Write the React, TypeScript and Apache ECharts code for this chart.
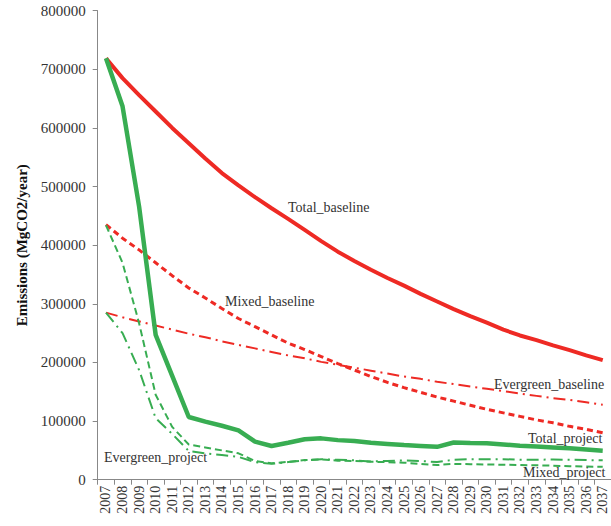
import React, { useEffect, useRef } from "react";
import * as echarts from "echarts";

const years = [
  "2007", "2008", "2009", "2010", "2011", "2012", "2013", "2014", "2015", "2016",
  "2017", "2018", "2019", "2020", "2021", "2022", "2023", "2024", "2025", "2026",
  "2027", "2028", "2029", "2030", "2031", "2032", "2033", "2034", "2035", "2036", "2037",
];

const totalBaseline = [
  719000, 685000, 656000, 628000, 600000, 574000, 548000, 523000, 502000, 482000,
  463000, 445000, 426000, 407000, 389000, 373000, 358000, 344000, 331000, 317000,
  304000, 291000, 279000, 268000, 256000, 246000, 238000, 229000, 221000, 212000, 204000,
];

const mixedBaseline = [
  435000, 412000, 392000, 370000, 348000, 327000, 310000, 292000, 275000, 261000,
  247000, 233000, 222000, 210000, 198000, 187000, 176000, 166000, 157000, 149000,
  141000, 134000, 127000, 120000, 114000, 108000, 102000, 97000, 91000, 86000, 80000,
];

const evergreenBaseline = [
  285000, 277000, 270000, 263000, 256000, 249000, 243000, 236000, 230000, 224000,
  218000, 212000, 207000, 201000, 196000, 191000, 186000, 181000, 176000, 172000,
  167000, 163000, 159000, 155000, 151000, 147000, 143000, 139000, 136000, 132000, 128000,
];

const totalProject = [
  719000, 637000, 466000, 247000, 177000, 107000, 99000, 92000, 84000, 65000,
  57500, 63000, 69000, 70500, 67500, 66000, 63000, 61000, 59000, 57500,
  56000, 63500, 62500, 62000, 60000, 58000, 56500, 55000, 53500, 51500, 49500,
];

const mixedProject = [
  434000, 370000, 267000, 145000, 90000, 60000, 55000, 50000, 45000, 32000,
  28000, 30500, 33500, 34500, 32500, 32000, 30500, 30000, 29000, 27000,
  25000, 27000, 26500, 26000, 25500, 25000, 24500, 24000, 23000, 22500, 22000,
];

const evergreenProject = [
  285000, 250000, 187000, 105000, 78000, 49000, 45000, 42000, 39000, 30000,
  27000, 30000, 33000, 35000, 34000, 33000, 31000, 32000, 33000, 32000,
  30000, 34000, 35000, 35000, 35000, 34000, 34000, 34500, 34000, 33500, 33000,
];

const RED = "#ee2a24";
const GREEN = "#38ad52";
const SERIF = "Liberation Serif";

export default function App() {
  const ref = useRef<HTMLDivElement>(null);
  useEffect(() => {
    if (!ref.current) return;
    const chart = echarts.init(ref.current, null, { renderer: "svg" });
    const mk = (name: string, data: number[], color: string, width: number, type: any, z: number) => ({
      name,
      type: "line",
      data,
      symbol: "none",
      smooth: false,
      z,
      lineStyle: { color, width, type },
    });
    const annotation = (text: string, x: number, y: number) => ({
      type: "text",
      left: x,
      top: y,
      style: { text, fontFamily: SERIF, fontSize: 14, fill: "#333" },
      z: 100,
    });
    chart.setOption({
      animation: false,
      backgroundColor: "#ffffff",
      grid: { left: 97.7, top: 10.7, width: 521, height: 469, containLabel: false },
      xAxis: {
        type: "category",
        data: years,
        boundaryGap: true,
        axisLine: { show: true, lineStyle: { color: "#888", width: 1 } },
        axisTick: { show: true, alignWithLabel: false, length: 5, lineStyle: { color: "#888" } },
        axisLabel: {
          rotate: 90,
          interval: 0,
          margin: 6,
          fontFamily: SERIF,
          fontSize: 14,
          color: "#333",
        },
        splitLine: { show: false },
      },
      yAxis: {
        type: "value",
        min: 0,
        max: 800000,
        interval: 100000,
        name: "Emissions (MgCO2/year)",
        nameLocation: "middle",
        nameGap: 64,
        nameTextStyle: { fontFamily: SERIF, fontSize: 15, fontWeight: "bold", color: "#111" },
        axisLine: { show: true, lineStyle: { color: "#888", width: 1 } },
        axisTick: { show: true, length: 5, lineStyle: { color: "#888" } },
        axisLabel: {
          fontFamily: SERIF,
          fontSize: 15,
          color: "#333",
          margin: 12,
          formatter: (v: number) => String(v),
        },
        splitLine: { show: false },
      },
      series: [
        mk("Evergreen_baseline", evergreenBaseline, RED, 2, [12, 5, 2, 5], 2),
        mk("Mixed_baseline", mixedBaseline, RED, 3, [6, 4], 3),
        mk("Total_baseline", totalBaseline, RED, 4, "solid", 4),
        mk("Evergreen_project", evergreenProject, GREEN, 2, [12, 5, 2, 5], 5),
        mk("Mixed_project", mixedProject, GREEN, 2, [7, 4], 6),
        mk("Total_project", totalProject, GREEN, 4.5, "solid", 7),
      ],
      graphic: [
        annotation("Total_baseline", 288, 200),
        annotation("Mixed_baseline", 225, 294),
        annotation("Evergreen_baseline", 494, 377),
        annotation("Total_project", 528, 431),
        annotation("Mixed_project", 523, 465),
        annotation("Evergreen_project", 104, 450),
      ],
    });
    return () => chart.dispose();
  }, []);
  return (
    <div
      ref={ref}
      style={{ position: "fixed", left: 0, top: 0, width: 611, height: 526, background: "#fff" }}
    />
  );
}
